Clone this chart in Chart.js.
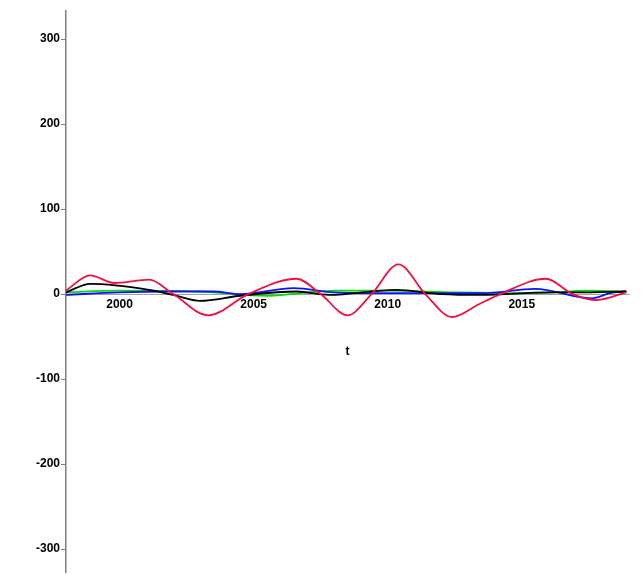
<!DOCTYPE html>
<html>
<head>
<meta charset="utf-8">
<script src="https://cdn.jsdelivr.net/npm/chart.js@4/dist/chart.umd.min.js"></script>
<style>
  html, body { margin: 0; padding: 0; background: #fff; }
  #wrap { width: 643px; height: 574px; }
</style>
</head>
<body>
<div id="wrap"><canvas id="plot"></canvas></div>
<script>
// axis ticks
const xTicks = [2000, 2005, 2010, 2015];
const yTicks = [-300, -200, -100, 0, 100, 200, 300];

// red curve
const redYears  = [1998.0, 1998.9, 1999.8, 2001.1, 2002.0, 2003.3, 2004.8, 2006.6, 2007.5, 2008.5, 2009.4, 2010.4, 2011.4, 2012.4, 2013.4, 2014.2, 2015.9, 2016.9, 2017.8, 2018.9];
const redValues = [4, 22, 13, 17, 0, -25, 0, 18, 0, -25, 0, 35, 0, -27, -12, 0, 18, 0, -7, 2];

// black curve
const blackYears  = [1998.0, 1998.9, 2001.1, 2002.0, 2003.0, 2004.5, 2006.6, 2007.8, 2010.3, 2012.0, 2013.5, 2016.0, 2017.0, 2018.9];
const blackValues = [2, 12, 5, -1, -8, -2, 3, -1, 5, 0, -1, 2, 2, 3];

// blue curve
const blueYears  = [1998.0, 2000.0, 2002.0, 2003.5, 2004.5, 2006.5, 2008.0, 2010.0, 2012.0, 2013.5, 2015.5, 2017.6, 2018.3, 2018.9];
const blueValues = [-1, 2, 3, 3, 0, 7, 2, 1, 1, 1, 6, -5, 1, 3];

// green curve
const greenYears  = [1998.0, 2000.0, 2003.0, 2005.5, 2008.0, 2010.0, 2012.5, 2015.5, 2017.5, 2018.9];
const greenValues = [2, 4, 3, -2, 4, 4, 2, 1, 4, 3];

const toPoints = (xs, ys) => xs.map((x, i) => ({ x: x, y: ys[i] }));

const tickFont = { family: 'Liberation Sans', size: 12, weight: 'bold' };

function makeSeries(label, xs, ys, color) {
  return {
    label: label,
    data: toPoints(xs, ys),
    borderColor: color,
    borderWidth: 1.8,
    pointRadius: 0,
    cubicInterpolationMode: 'monotone',
    fill: false
  };
}

new Chart(document.getElementById('plot'), {
  type: 'line',
  data: {
    datasets: [
      makeSeries('red', redYears, redValues, '#f01040'),
      makeSeries('black', blackYears, blackValues, '#000000'),
      makeSeries('blue', blueYears, blueValues, '#1010ff'),
      makeSeries('green', greenYears, greenValues, '#00dd00')
    ]
  },
  options: {
    responsive: true,
    maintainAspectRatio: false,
    animation: false,
    layout: { padding: { left: 0, right: 14, top: 11, bottom: 2 } },
    plugins: { legend: { display: false }, tooltip: { enabled: false } },
    scales: {
      x: {
        type: 'linear',
        min: 1998,
        max: 2019,
        position: { y: 0 },
        afterBuildTicks: s => { s.ticks = xTicks.map(v => ({ value: v })); },
        afterFit: s => { s.paddingLeft = 0; s.paddingRight = 0; },
        grid: { display: false },
        border: { display: true, color: '#a0a0a0', width: 1 },
        ticks: { font: tickFont, color: '#000', padding: -5, maxRotation: 0, callback: v => String(v) },
        title: { display: true, text: 't', font: tickFont, color: '#000', padding: { top: 38 } }
      },
      y: {
        type: 'linear',
        min: -327,
        max: 333,
        position: 'left',
        afterBuildTicks: s => { s.ticks = yTicks.map(v => ({ value: v })); },
        afterFit: s => { s.width = 66; s.paddingTop = 0; s.paddingBottom = 0; },
        grid: { drawOnChartArea: false, drawTicks: true, tickLength: 5, color: '#808080' },
        border: { display: true, color: '#808080', width: 1.5 },
        ticks: { font: tickFont, color: '#000', padding: 1, callback: v => String(v) }
      }
    }
  }
});
</script>
</body>
</html>
